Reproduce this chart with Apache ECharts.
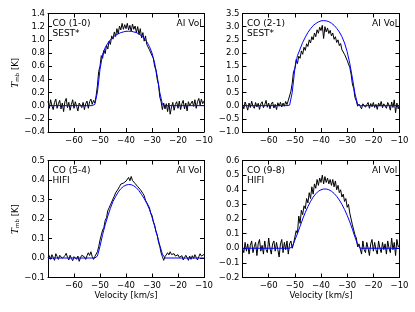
<!DOCTYPE html>
<html><head><meta charset="utf-8">
<script src="https://cdn.jsdelivr.net/npm/echarts@6/dist/echarts.min.js"></script>
<style>html,body{margin:0;padding:0;background:#fff}#c{width:415px;height:312px}</style>
</head><body><div id="c"></div>
<script>
// Velocity channels (km/s)
const velocity = [
-70,-69.5,-69,-68.5,-68,-67.5,-67,-66.5,-66,-65.5,
-65,-64.5,-64,-63.5,-63,-62.5,-62,-61.5,-61,-60.5,
-60,-59.5,-59,-58.5,-58,-57.5,-57,-56.5,-56,-55.5,
-55,-54.5,-54,-53.5,-53,-52.5,-52,-51.5,-51,-50.5,
-50,-49.5,-49,-48.5,-48,-47.5,-47,-46.5,-46,-45.5,
-45,-44.5,-44,-43.5,-43,-42.5,-42,-41.5,-41,-40.5,
-40,-39.5,-39,-38.5,-38,-37.5,-37,-36.5,-36,-35.5,
-35,-34.5,-34,-33.5,-33,-32.5,-32,-31.5,-31,-30.5,
-30,-29.5,-29,-28.5,-28,-27.5,-27,-26.5,-26,-25.5,
-25,-24.5,-24,-23.5,-23,-22.5,-22,-21.5,-21,-20.5,
-20,-19.5,-19,-18.5,-18,-17.5,-17,-16.5,-16,-15.5,
-15,-14.5,-14,-13.5,-13,-12.5,-12,-11.5,-11,-10.5,
-10];

// Observed spectra (T_mb, K)
const obsCO10 = [
0.07,-0.04,0.09,0.0,-0.06,0.05,0.1,-0.04,0.03,0.08,
-0.05,0.04,-0.09,0.06,0.11,-0.03,0.05,-0.07,0.02,0.09,
-0.04,0.06,-0.01,-0.08,0.04,0.07,-0.03,0.05,-0.06,0.03,
0.07,-0.04,0.06,0.1,0.02,0.08,0.04,0.15,0.3,0.52,
0.6,0.76,0.72,0.84,0.79,0.92,0.86,0.98,0.93,1.06,
1.01,1.12,1.05,1.17,1.09,1.21,1.15,1.25,1.16,1.23,
1.17,1.25,1.15,1.22,1.13,1.24,1.16,1.21,1.11,1.2,
1.08,1.17,1.03,1.11,0.98,1.06,0.93,0.96,0.85,0.86,
0.76,0.72,0.6,0.54,0.4,0.32,0.13,0.06,-0.06,0.04,
-0.05,0.03,-0.09,0.04,-0.13,-0.02,0.05,-0.07,0.02,0.06,
-0.04,0.07,-0.06,0.03,0.08,-0.05,0.04,-0.08,0.06,0.0,
-0.03,0.07,-0.01,0.09,-0.04,0.06,0.11,0.01,0.1,0.03,
0.07];
const obsCO21 = [
0.05,-0.12,0.14,0.0,-0.17,0.1,-0.07,0.17,-0.02,-0.1,
0.12,-0.05,0.09,-0.14,0.07,0.15,-0.08,0.04,0.2,-0.06,
0.1,-0.12,0.06,0.14,-0.09,0.05,-0.15,0.11,-0.02,0.13,
-0.05,0.1,-0.02,0.16,0.04,0.2,0.15,0.55,0.85,1.3,
1.4,1.75,1.6,1.88,1.8,2.08,1.95,2.22,2.1,2.35,
2.25,2.5,2.38,2.62,2.5,2.76,2.62,2.88,2.75,2.98,
2.85,3.05,2.55,3.0,2.8,2.95,2.74,2.86,2.65,2.76,
2.52,2.62,2.4,2.5,2.28,2.36,2.12,2.18,1.95,1.98,
1.72,1.58,1.45,1.2,0.82,0.65,0.3,0.18,-0.02,0.06,
0.1,-0.12,0.07,0.14,-0.06,0.04,0.12,-0.1,0.08,-0.04,
0.12,-0.07,0.05,-0.14,0.1,-0.02,0.16,-0.08,0.07,0.0,
-0.1,0.12,0.02,-0.17,0.14,-0.07,0.22,-0.27,0.1,-0.12,
0.05];
const obsCO54 = [
0.0,0.012,-0.007,0.017,0.003,-0.012,0.022,0.008,-0.007,0.014,
0.02,-0.002,-0.012,0.012,0.024,0.003,-0.01,0.014,-0.002,-0.014,
0.007,0.017,-0.007,0.01,-0.017,0.002,0.014,0.022,0.006,-0.007,
0.012,0.027,0.013,0.032,0.008,-0.007,0.007,0.008,0.032,0.058,
0.092,0.118,0.143,0.157,0.193,0.207,0.243,0.257,0.273,0.287,
0.303,0.317,0.334,0.341,0.354,0.366,0.379,0.381,0.384,0.39,
0.394,0.401,0.413,0.396,0.418,0.397,0.394,0.382,0.379,0.366,
0.364,0.351,0.344,0.331,0.319,0.296,0.289,0.271,0.259,0.231,
0.219,0.186,0.169,0.136,0.119,0.081,0.059,0.026,0.007,-0.012,
0.007,0.01,0.027,0.016,0.032,0.018,0.01,0.022,0.01,0.002,
0.017,0.003,-0.007,0.012,-0.01,0.002,0.014,0.003,-0.012,0.01,
-0.007,0.012,-0.002,0.017,0.003,-0.01,0.007,0.022,0.01,0.012,
0.018];
const obsCO98 = [
0.0,-0.03,0.04,-0.02,0.03,-0.04,0.02,0.05,-0.03,0.01,
0.04,-0.05,0.03,0.06,-0.02,0.02,-0.04,0.05,-0.01,-0.03,
0.07,0.0,-0.04,0.03,0.05,-0.02,0.04,-0.01,-0.06,0.03,
0.06,-0.03,0.04,-0.01,0.05,-0.04,0.03,0.05,0.0,0.03,
0.04,0.12,0.1,0.22,0.17,0.26,0.23,0.29,0.27,0.34,
0.31,0.38,0.34,0.42,0.37,0.44,0.41,0.47,0.43,0.48,
0.45,0.5,0.44,0.49,0.45,0.48,0.44,0.47,0.43,0.47,
0.42,0.46,0.4,0.43,0.38,0.4,0.35,0.37,0.32,0.34,
0.28,0.3,0.24,0.23,0.16,0.15,0.09,0.07,0.01,0.03,
0.03,-0.04,0.05,-0.01,-0.03,0.04,0.0,-0.05,0.03,0.06,
-0.02,0.04,-0.01,-0.04,0.05,0.0,-0.03,0.04,-0.01,0.03,
-0.04,0.05,0.0,-0.03,0.07,-0.01,0.04,-0.05,0.06,0.01,
0.02];

// Model velocities and model profiles
const modelVelocity = [-70,-53,
-52,-51,-50,-49,-48,-47,-46,-45,-44,-43,
-42,-41,-40,-39,-38,-37,-36,-35,-34,-33,
-32,-31,-30,-29,-28,-27,-26,-25,
-10];
const modelCO10 = [0,0,
0.02,0.2,0.55,0.78,0.88,0.95,1.0,1.04,1.07,1.09,
1.11,1.12,1.13,1.13,1.13,1.12,1.11,1.09,1.06,1.02,
0.97,0.9,0.8,0.65,0.45,0.2,0.02,0,
0];
const modelCO21 = [0,0,
0.02,0.5,1.4,1.9,2.15,2.4,2.6,2.78,2.92,3.04,
3.12,3.18,3.22,3.23,3.22,3.19,3.13,3.05,2.94,2.8,
2.62,2.38,2.05,1.6,1.05,0.45,0.05,0,
0];
const modelCO54 = [0,0,
0,0.01,0.06,0.12,0.17,0.215,0.255,0.29,0.315,0.338,
0.355,0.367,0.374,0.377,0.376,0.37,0.36,0.345,0.325,0.305,
0.28,0.25,0.21,0.165,0.115,0.065,0.02,0,
0];
const modelCO98 = [0,0,
0,0.01,0.055,0.1,0.15,0.2,0.245,0.285,0.32,0.35,
0.372,0.39,0.4,0.405,0.405,0.4,0.39,0.375,0.355,0.33,
0.3,0.265,0.225,0.18,0.13,0.075,0.025,0,
0];

const lineLabels = ['CO (1-0)','CO (2-1)','CO (5-4)','CO (9-8)'];
const telescopes = ['SEST*','SEST*','HIFI','HIFI'];
const starName = 'AI Vol';
const yRanges = [[-0.4,1.4,0.2],[-1.0,3.5,0.5],[-0.1,0.5,0.1],[-0.2,0.6,0.1]];
const xRange = [-70,-10,10];

const observed = [obsCO10, obsCO21, obsCO54, obsCO98];
const models = [modelCO10, modelCO21, modelCO54, modelCO98];

const boxes = [
  {left:48, top:13.5, width:156, height:118.5},
  {left:242.5, top:13.5, width:157, height:118.5},
  {left:48, top:160.5, width:156, height:117},
  {left:242.5, top:160.5, width:157, height:117}
];

const FONT = 'DejaVu Sans';
const minus = s => String(s).replace('-', '\u2212');
const axisLineStyle = {color:'#000', width:1};

const grid = [], xAxis = [], yAxis = [], series = [], graphic = [];
boxes.forEach((b, i) => {
  grid.push({left:b.left, top:b.top, width:b.width, height:b.height, containLabel:false});
  const xBase = {
    type:'value', gridIndex:i, min:xRange[0], max:xRange[1], interval:xRange[2],
    axisLine:{show:true, onZero:false, lineStyle:axisLineStyle},
    axisTick:{show:true, inside:true, length:4, lineStyle:axisLineStyle},
    splitLine:{show:false}
  };
  xAxis.push(Object.assign({}, xBase, {
    position:'bottom',
    axisLabel:{show:true, fontSize:8.5, fontFamily:FONT, color:'#000', margin:4,
      showMinLabel:false, showMaxLabel:true, formatter:v => minus(v)},
    name: i >= 2 ? 'Velocity [km/s]' : '',
    nameLocation:'middle', nameGap:14,
    nameTextStyle:{fontSize:8.5, fontFamily:FONT, color:'#000'}
  }));
  xAxis.push(Object.assign({}, xBase, {position:'top', axisLabel:{show:false}}));
  const yr = yRanges[i];
  const yBase = {
    type:'value', gridIndex:i, min:yr[0], max:yr[1], interval:yr[2],
    axisLine:{show:true, onZero:false, lineStyle:axisLineStyle},
    axisTick:{show:true, inside:true, length:4, lineStyle:axisLineStyle},
    splitLine:{show:false}
  };
  yAxis.push(Object.assign({}, yBase, {
    position:'left',
    axisLabel:{show:true, fontSize:8.5, fontFamily:FONT, color:'#000', margin:3,
      showMinLabel:true, showMaxLabel:true, formatter:v => minus(v.toFixed(1))},
    name: (i % 2 === 0) ? '{t|T}{s|mb}{k| [K]}' : '',
    nameLocation:'middle', nameGap:27, nameRotate:90,
    nameTextStyle:{
      color:'#000', fontFamily:FONT,
      rich:{
        t:{fontSize:9, fontStyle:'italic', fontFamily:'DejaVu Serif', color:'#000'},
        s:{fontSize:5.5, fontFamily:FONT, color:'#000', verticalAlign:'bottom', padding:[3,0,0,0]},
        k:{fontSize:8.5, fontFamily:FONT, color:'#000'}
      }
    }
  }));
  yAxis.push(Object.assign({}, yBase, {position:'right', axisLabel:{show:false}}));

  series.push({
    type:'line', xAxisIndex:2*i, yAxisIndex:2*i,
    data: velocity.map((v, k) => [v, observed[i][k]]),
    showSymbol:false, symbol:'none', clip:true,
    lineStyle:{color:'#000', width:1}, z:2
  });
  series.push({
    type:'line', xAxisIndex:2*i, yAxisIndex:2*i,
    data: modelVelocity.map((v, k) => [v, models[i][k]]),
    showSymbol:false, symbol:'none', clip:true,
    lineStyle:{color:'#0000ff', width:1}, z:3
  });

  graphic.push({
    type:'text', x:b.left + 4.5, y:b.top + 5.75,
    style:{text: lineLabels[i] + '\n' + telescopes[i], font:'9px "DejaVu Sans"', fill:'#000', lineHeight:9.5}
  });
  graphic.push({
    type:'text', x:b.left + b.width - 2.3, y:b.top + 5.75,
    style:{text: starName, font:'9px "DejaVu Sans"', fill:'#000', align:'right', lineHeight:9.5}
  });
});

const chart = echarts.init(document.getElementById('c'), null, {renderer:'canvas'});
chart.setOption({animation:false, backgroundColor:'#fff', grid, xAxis, yAxis, series, graphic});
</script></body></html>
